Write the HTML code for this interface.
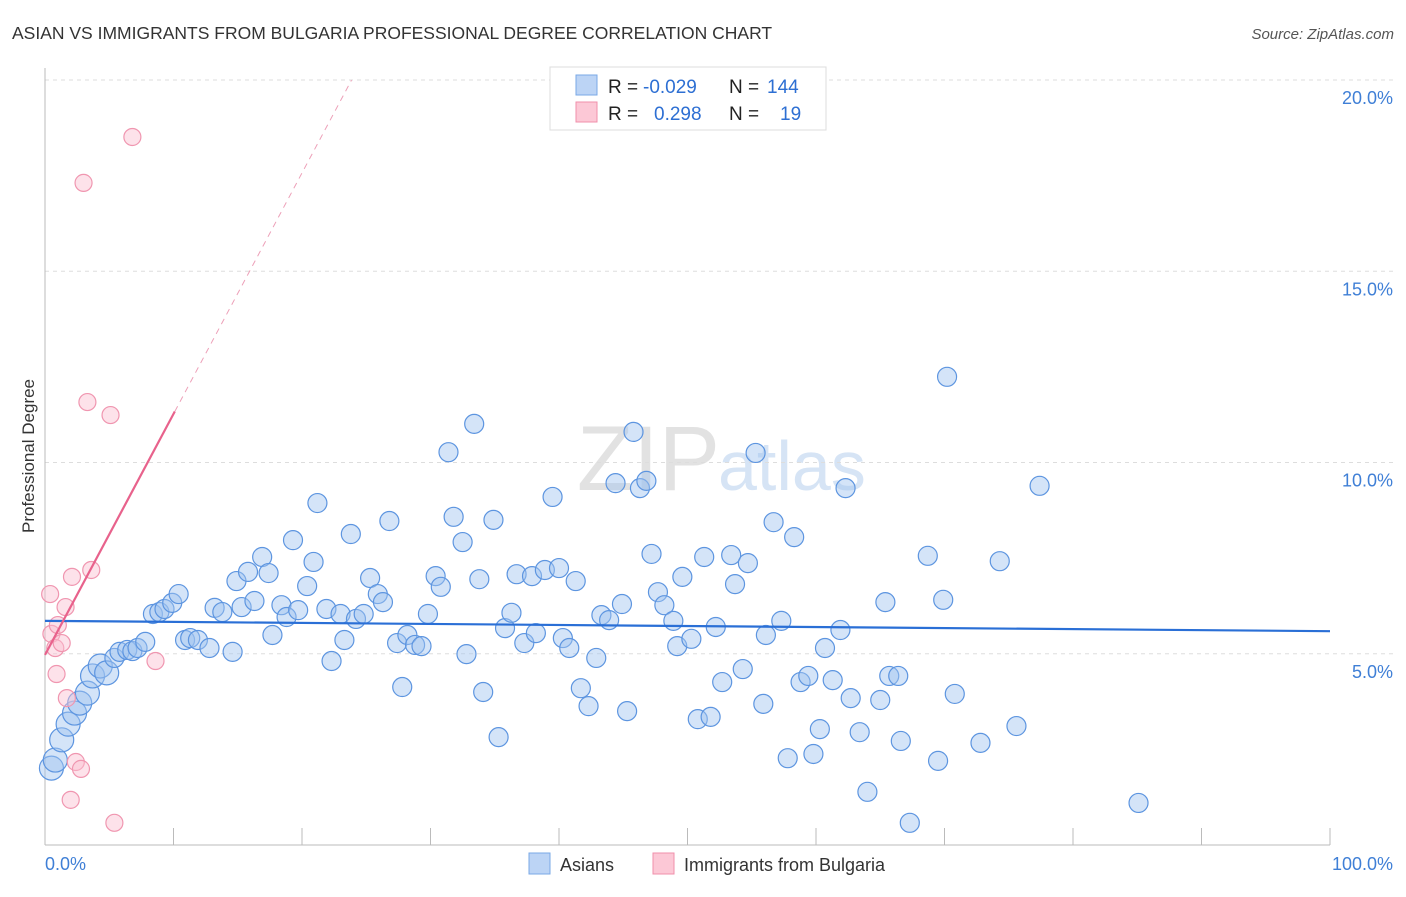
<!DOCTYPE html>
<html><head><meta charset="utf-8"><style>
body{margin:0;background:#fff;font-family:"Liberation Sans",sans-serif;}
svg text{font-family:"Liberation Sans",sans-serif;}
</style></head><body>
<svg width="1406" height="892" xmlns="http://www.w3.org/2000/svg">
<text x="12" y="39" font-size="17.5" fill="#333">ASIAN VS IMMIGRANTS FROM BULGARIA PROFESSIONAL DEGREE CORRELATION CHART</text>
<text x="1394" y="39" font-size="15" fill="#555" font-style="italic" text-anchor="end">Source: ZipAtlas.com</text>
<text x="720" y="490" font-size="92" fill="#e2e2e2" text-anchor="end" font-family="Liberation Serif">ZIP</text>
<text x="718" y="490" font-size="70" fill="#d6e4f5">atlas</text>
<g id="grid"></g>
<line x1="45" y1="68" x2="45" y2="845" stroke="#bbb"/>
<line x1="45" y1="845" x2="1330" y2="845" stroke="#bbb"/>
<g id="xticks"></g>
<g id="ylabels"></g>
<text x="45" y="870" font-size="18" fill="#3f7fd6">0.0%</text>
<text x="1393" y="870" font-size="18" fill="#3f7fd6" text-anchor="end">100.0%</text>
<text transform="translate(34,456) rotate(-90)" font-size="17" fill="#333" text-anchor="middle">Professional Degree</text>
<g id="pts"></g>
<g id="trends"></g>
<g>
<rect x="550" y="67" width="276" height="63" fill="#fff" stroke="#ddd"/>
<rect x="576" y="75" width="21" height="20" fill="#bcd4f5" stroke="#7aa8e6"/>
<rect x="576" y="102" width="21" height="20" fill="#fcc8d6" stroke="#f08fab"/>
<text x="608" y="93" font-size="19" fill="#222">R =</text>
<text x="643" y="93" font-size="19" fill="#2d6fd3">-0.029</text>
<text x="729" y="93" font-size="19" fill="#222">N =</text>
<text x="767" y="93" font-size="19" fill="#2d6fd3">144</text>
<text x="608" y="120" font-size="19" fill="#222">R =</text>
<text x="654" y="120" font-size="19" fill="#2d6fd3">0.298</text>
<text x="729" y="120" font-size="19" fill="#222">N =</text>
<text x="780" y="120" font-size="19" fill="#2d6fd3">19</text>
</g>
<g>
<rect x="529" y="853" width="21" height="21" fill="#bcd4f5" stroke="#7aa8e6"/>
<text x="560" y="871" font-size="18" fill="#333">Asians</text>
<rect x="653" y="853" width="21" height="21" fill="#fcc8d6" stroke="#f08fab"/>
<text x="684" y="871" font-size="18" fill="#333">Immigrants from Bulgaria</text>
</g>
</svg>
<script>
const yTicks=[5,10,15,20];
const yTickLabels=["5.0%","10.0%","15.0%","20.0%"];
const xTicks=[0,10,20,30,40,50,60,70,80,90,100];
const asianX=[0.5,0.8,1.3,1.8,2.3,2.7,3.3,3.7,4.3,4.8,5.4,5.8,6.4,6.8,7.2,7.8,8.4,8.9,9.3,9.9,10.4,10.9,11.3,11.9,12.8,13.2,13.8,14.6,14.9,15.3,15.8,16.3,16.9,17.4,17.7,18.4,18.8,19.3,19.7,20.4,20.9,21.2,21.9,22.3,23.0,23.3,23.8,24.2,24.8,25.3,25.9,26.3,26.8,27.4,27.8,28.2,28.8,29.3,29.8,30.4,30.8,31.4,31.8,32.5,32.8,33.4,33.8,34.1,34.9,35.3,35.8,36.3,36.7,37.3,37.9,38.2,38.9,39.5,40.0,40.3,40.8,41.3,41.7,42.3,42.9,43.3,43.9,44.4,44.9,45.3,45.8,46.3,46.8,47.2,47.7,48.2,48.9,49.2,49.6,50.3,50.8,51.3,51.8,52.2,52.7,53.4,53.7,54.3,54.7,55.3,55.9,56.1,56.7,57.3,57.8,58.3,58.8,59.4,59.8,60.3,60.7,61.3,61.9,62.3,62.7,63.4,64.0,65.0,65.4,65.7,66.4,66.6,67.3,68.7,69.5,69.9,70.2,70.8,72.8,74.3,75.6,77.4,85.1];
const asianY=[2.01,2.22,2.75,3.16,3.45,3.71,3.97,4.42,4.68,4.50,4.89,5.05,5.10,5.07,5.15,5.31,6.04,6.09,6.17,6.33,6.56,5.36,5.41,5.36,5.15,6.20,6.09,5.05,6.90,6.22,7.14,6.38,7.53,7.11,5.49,6.27,5.96,7.97,6.14,6.77,7.40,8.94,6.17,4.81,6.04,5.36,8.13,5.91,6.04,6.98,6.56,6.35,8.47,5.28,4.13,5.49,5.23,5.20,6.04,7.03,6.75,10.27,8.58,7.92,4.99,11.01,6.95,4.00,8.50,2.82,5.67,6.07,7.08,5.28,7.03,5.54,7.19,9.10,7.24,5.41,5.15,6.90,4.10,3.63,4.89,6.01,5.88,9.46,6.30,3.50,10.80,9.33,9.52,7.61,6.61,6.27,5.86,5.20,7.01,5.39,3.29,7.53,3.35,5.70,4.26,7.58,6.82,4.60,7.37,10.25,3.69,5.49,8.44,5.86,2.27,8.05,4.26,4.42,2.38,3.03,5.15,4.31,5.62,9.33,3.84,2.95,1.39,3.79,6.35,4.42,4.42,2.72,0.58,7.56,2.20,6.41,12.24,3.95,2.67,7.42,3.11,9.39,1.10];
const bulgX=[0.4,0.5,0.8,1.0,1.3,1.6,2.1,0.9,1.7,2.0,2.4,2.8,3.0,3.3,3.6,5.1,5.4,6.8,8.6];
const bulgY=[6.56,5.52,5.15,5.75,5.28,6.22,7.01,4.47,3.84,1.18,2.17,1.99,17.31,11.58,7.19,11.24,0.58,18.51,4.81];
const asianTrend=[5.86,5.59]; // y at x=0 and x=100
const bulgTrend=[4.97,0.63]; // intercept, slope per %
const NS="http://www.w3.org/2000/svg";
const X=v=>45+v*12.85, Y=v=>845-v*38.25;
function mk(t,a,p){const e=document.createElementNS(NS,t);for(const k in a)e.setAttribute(k,a[k]);p.appendChild(e);return e;}
const grid=document.getElementById('grid'),yl=document.getElementById('ylabels'),xt=document.getElementById('xticks');
yTicks.forEach((t,i)=>{
 const l=mk('line',{x1:45,x2:1394,y1:Y(t),y2:Y(t),stroke:'#ddd','stroke-dasharray':'4,4'},grid);
 
 
 const tx=mk('text',{x:1393,y:Y(t)+24,'font-size':18,fill:'#3f7fd6','text-anchor':'end'},yl);
 tx.textContent=yTickLabels[i];
 
 
});
xTicks.forEach(t=>{
 const l=mk('line',{x1:X(t),x2:X(t),y1:828,y2:845,stroke:'#bbb'},xt);
 
 
});
const pts=document.getElementById('pts');
asianX.forEach((x,i)=>{
 const c=mk('circle',{cx:X(x),cy:Y(asianY[i]),r:x<5?12:9.5,fill:'rgba(160,196,240,0.45)',stroke:'#5d95e0','stroke-width':1.2},pts);
 
 
});
bulgX.forEach((x,i)=>{
 const c=mk('circle',{cx:X(x),cy:Y(bulgY[i]),r:8.5,fill:'rgba(250,190,208,0.45)',stroke:'#f096b0','stroke-width':1.2},pts);
 
 
});
const tr=document.getElementById('trends');
const a=mk('line',{x1:X(0),y1:Y(asianTrend[0]),x2:X(100),y2:Y(asianTrend[1]),stroke:'#2a6fd6','stroke-width':2.2},tr);


const bEnd=10.1, bDash=(20-bulgTrend[0])/bulgTrend[1];
const b=mk('line',{x1:X(0),y1:Y(bulgTrend[0]),x2:X(bEnd),y2:Y(bulgTrend[0]+bulgTrend[1]*bEnd),stroke:'#e8628c','stroke-width':2.2},tr);


const bd=mk('line',{x1:X(bEnd),y1:Y(bulgTrend[0]+bulgTrend[1]*bEnd),x2:X(bDash),y2:Y(20),stroke:'#eda0b8','stroke-width':1,'stroke-dasharray':'6,5'},tr);


</script>
</body></html>
